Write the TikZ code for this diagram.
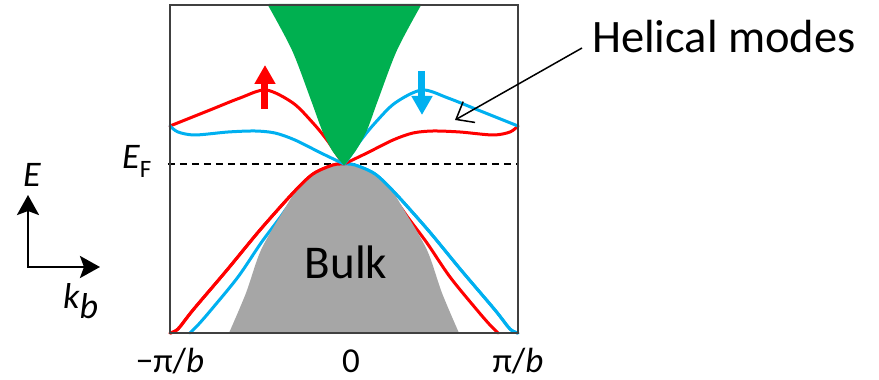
\documentclass[tikz,border=0pt]{standalone}
\usepackage{fontspec}
\setmainfont{Carlito}
\usetikzlibrary{arrows.meta}
\definecolor{spinred}{HTML}{FF0000}
\definecolor{spinblue}{HTML}{00B0F0}
\definecolor{surfgreen}{HTML}{00B050}
\definecolor{bulkgray}{HTML}{A6A6A6}

\begin{document}
\begin{tikzpicture}[x=1pt, y=1pt,
    band/.style={line width=3pt, line cap=round, line join=round},
    spin/.style={line width=7pt, -{Triangle[length=19pt, width=20pt]}},
    lab/.style={inner sep=0pt, font=\fontsize{35}{35}\selectfont}]
  \useasboundingbox (-344,-216) rectangle (535,164);
  % Fermi level
  \draw[line width=1.8pt, dash pattern=on 7pt off 5pt] (-176,0) -- (174,0);
  % lower bands (blue = mirror of red)
  \foreach \c/\s in {spinred/1, spinblue/-1} {
    \begin{scope}[xscale=\s]
      \draw[band, \c] plot[smooth] coordinates {(-174,-169) (-166,-165) (-151,-146) (-117,-106) (-84,-66) (-51,-29) (-31,-10) (-11,-1) (0,0)}
        plot[smooth] coordinates {(0,0) (12,-2) (31,-16) (51,-36) (65,-55) (83,-79) (106,-113) (133,-146) (146,-161) (154,-169)};
    \end{scope}
  }
  % bulk
  \fill[bulkgray] (-115,-169) -- plot[smooth] coordinates {(-115,-169) (-98,-129) (-83,-86) (-60,-46) (-45,-23) (-22,-6) (0,1) (22,-6) (45,-23) (60,-46) (83,-86) (98,-129) (115,-169)} -- cycle;
  \foreach \c/\s in {spinred/1, spinblue/-1} {
    \begin{scope}[xscale=\s]
      \clip (-180,-180) rectangle (0,10);
      \draw[band, \c] plot[smooth] coordinates {(-174,-169) (-166,-165) (-151,-146) (-117,-106) (-84,-66) (-51,-29) (-31,-10) (-11,-1) (0,0)};
    \end{scope}
  }
  % helical modes
  \foreach \c/\s in {spinred/1, spinblue/-1} {
    \begin{scope}[xscale=\s]
      \draw[band, \c] plot[smooth] coordinates {(-174,38) (-134,54) (-104,66) (-78,74) (-51,61) (-31,41) (-17,24) (-4,5) (0,0)}
        plot[smooth] coordinates {(0,0) (23,11) (49,24) (69,31) (89,33) (116,32) (149,29) (166,32) (174,38)};
    \end{scope}
  }
  % surface cone
  \filldraw[surfgreen, line width=2pt, line join=round] plot[smooth] coordinates {(-75,159) (-51,114) (-32,64) (-21,34) (-11,14) (0,0)}
    -- plot[smooth] coordinates {(0,0) (11,14) (22,34) (33,64) (52,114) (76,159)} -- cycle;
  \draw[spin, spinred] (-79,55) -- (-79,99);
  \draw[spin, spinblue] (78,93) -- (78,49);
  \draw[line width=1.2pt, black!75] (-174,-169) rectangle (174,159);

  \node[font=\fontsize{47}{47}\selectfont] (bulk) at (2,-98) {Bulk};
  \node[anchor=base west, inner sep=0pt, font=\fontsize{46.5}{46.5}\selectfont] (helical) at (248,111) {Helical modes};
  \coordinate (modes) at (111,44);
  \draw[line width=1.5pt, -{Straight Barb[length=15pt, width=24pt]}] ([xshift=-10pt, yshift=5pt]helical.base west) -- (modes);

  \node[anchor=base west, inner sep=0pt] (EF) at (-222,-5) {\fontsize{36}{36}\selectfont\itshape E\upshape\fontsize{25}{25}\selectfont\raisebox{-9pt}{F}};
  \node[lab, anchor=base] (kmin) at (-174,-208) {−π/\textit{b}};
  \node[lab, anchor=base] (kzero) at (7,-208) {0};
  \node[lab, anchor=base] (kmax) at (174,-208) {π/\textit{b}};

  % axes
  \coordinate (origin) at (-316,-103);
  \coordinate (Etip) at (-316,-31);
  \coordinate (ktip) at (-244,-103);
  \draw[line width=2.8pt, {Stealth[length=20pt, width=22pt, inset=4pt]}-{Stealth[length=20pt, width=22pt, inset=4pt]}] (Etip) |- (ktip);
  \node[anchor=base west, inner sep=0pt, font=\fontsize{36}{36}\selectfont\itshape] (Elab) at (-321,-23) {E};
  \node[anchor=base west, inner sep=0pt, font=\fontsize{36}{36}\selectfont\itshape] (klab) at (-281,-144) {k\raisebox{-10pt}{b}};
\end{tikzpicture}
\end{document}
